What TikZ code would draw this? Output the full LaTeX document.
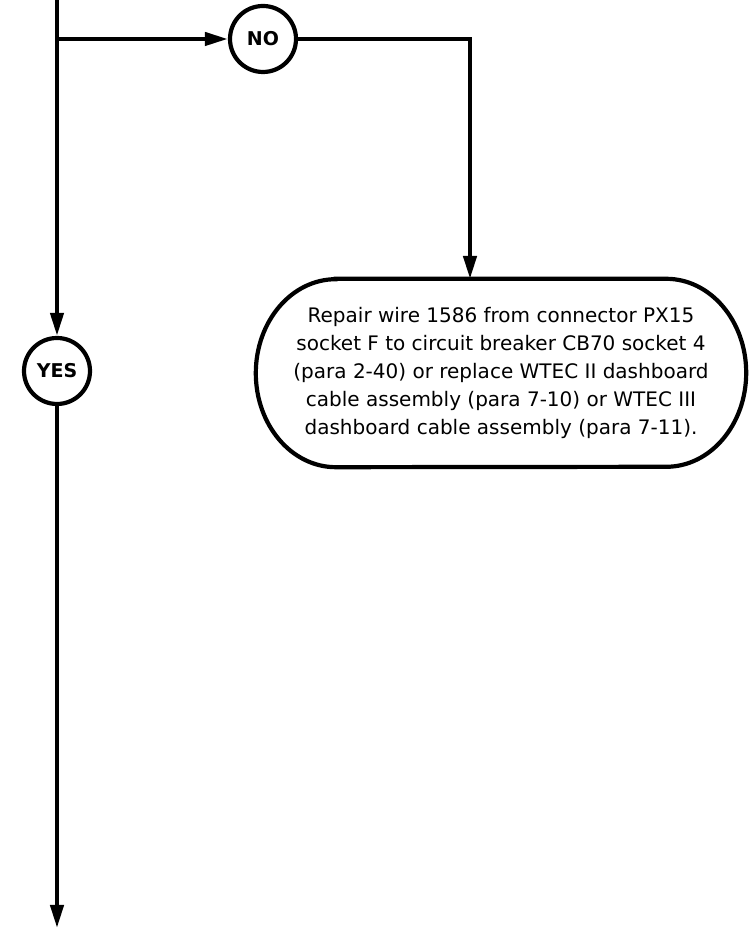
\documentclass[tikz,border=0pt]{standalone}
\usepackage{fontspec}
\setsansfont{DejaVu Sans}
\usetikzlibrary{arrows.meta}
\usetikzlibrary{positioning}

\tikzset{
  flow/.style={line width=4.2pt, -{Triangle[length=23pt,width=13pt]}},
  wire/.style={line width=4.2pt},
  answer/.style={circle, draw, line width=4.2pt, minimum size=66pt, inner sep=0pt,
    font=\sffamily\bfseries\fontsize{19}{21}\selectfont},
  action/.style={inner sep=0pt, minimum width=490pt, minimum height=188pt, align=center,
    font=\sffamily\fontsize{20}{28}\selectfont}
}

\begin{document}
\begin{tikzpicture}[x=1pt, y=1pt]
    \useasboundingbox (0,0) rectangle (749,928);

    % Punkte der Hauptleitung
    \coordinate (top) at (57,928);
    \coordinate (split) at (57,889);
    \coordinate (bottom) at (57,0);

    % Antwortkreise
    \node[answer] (no) at (263,889) {NO};
    \node[answer] (yes) at (57,557) {YES};

    % Massnahme
    \node[action] (repair) at (501,555) {Repair wire 1586 from connector PX15\\
      socket F to circuit breaker CB70 socket 4\\
      (para 2-40) or replace WTEC II dashboard\\
      cable assembly (para 7-10) or WTEC III\\
      dashboard cable assembly (para 7-11).};
    \coordinate (drop) at (470,649);

    % Umriss mit elliptischen Enden
    \draw[wire] ([xshift=80pt]repair.north west) -- ([xshift=-80pt]repair.north east)
      arc[start angle=90, end angle=-90, x radius=80pt, y radius=94pt]
      -- ([xshift=80pt]repair.south west)
      arc[start angle=270, end angle=90, x radius=80pt, y radius=94pt] -- cycle;

    % Verbindungen
    \draw[flow] (top) -- (yes);
    \draw[flow] (yes) -- (bottom);
    \draw[flow] (split) -- (no);
    \draw[flow] (no) -| (drop);

\end{tikzpicture}
\end{document}
